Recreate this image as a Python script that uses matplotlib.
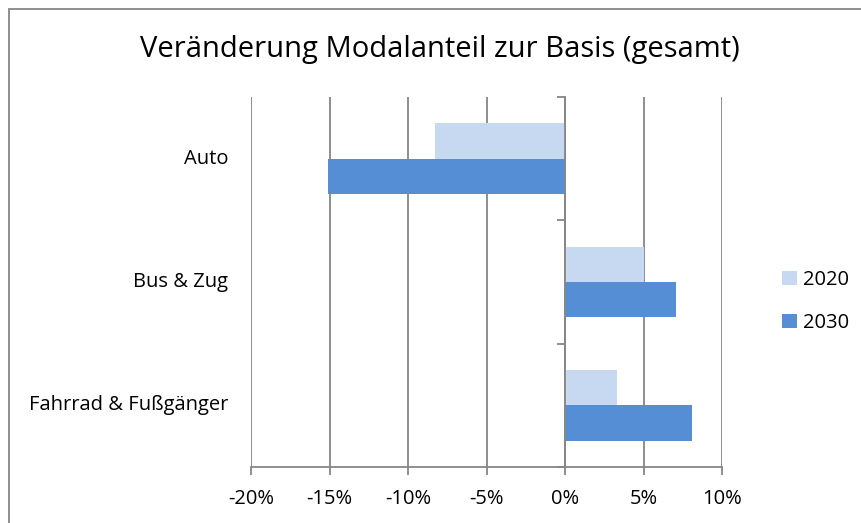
import matplotlib
matplotlib.use("Agg")
import matplotlib.pyplot as plt
from matplotlib.patches import Rectangle
from matplotlib.ticker import FuncFormatter, FixedLocator
import matplotlib.transforms as mtrans
import numpy as np

plt.rcParams['font.family'] = ['Open Sans', 'DejaVu Sans']

title = "Veränderung Modalanteil zur Basis (gesamt)"
categories = ["Auto", "Bus & Zug", "Fahrrad & Fußgänger"]
series_names = ["2020", "2030"]
values_2020 = [-8.3, 5.0, 3.3]
values_2030 = [-15.1, 7.1, 8.1]
xticks = [-20, -15, -10, -5, 0, 5, 10]
colors = ["#C6D9F1", "#558ED5"]

W, H = 861, 523
fig = plt.figure(figsize=(W / 100, H / 100), dpi=100)
ax = fig.add_axes([251 / W, 1 - 467 / H, (722 - 251) / W, (467 - 97) / H])

y = np.arange(len(categories))
h = 0.2857
ax.barh(y - h / 2, values_2020, height=h, color=colors[0], label=series_names[0], zorder=3)
ax.barh(y + h / 2, values_2030, height=h, color=colors[1], label=series_names[1], zorder=3)

ax.set_xlim(-20, 10)
ax.set_ylim(len(categories) - 0.5, -0.5)

grey = "#868686"
ax.xaxis.set_major_locator(FixedLocator(xticks))
ax.xaxis.set_major_formatter(FuncFormatter(lambda v, p: f"{v:.0f}%"))
ax.grid(axis='x', color=grey, lw=1.3, zorder=1)
ax.tick_params(axis='x', direction='out', length=6, width=1.3, color=grey,
               labelsize=14.5, pad=10, labelcolor='black')

for s in ['top', 'right']:
    ax.spines[s].set_visible(False)
ax.spines['bottom'].set_color(grey)
ax.spines['bottom'].set_linewidth(1.3)
ax.spines['left'].set_position(('data', 0))
ax.spines['left'].set_color(grey)
ax.spines['left'].set_linewidth(1.3)
ax.spines['left'].set_zorder(4)
ax.set_yticks(np.arange(-0.5, len(categories), 1.0))
ax.set_yticklabels([])
ax.tick_params(axis='y', direction='out', length=6, width=1.3, color=grey)

trans = mtrans.blended_transform_factory(ax.transAxes, ax.transData)
for i, c in enumerate(categories):
    ax.text(-23 / (722 - 251), i, c, transform=trans, ha='right', va='center', fontsize=14.5)

fig.text(440 / W, 1 - 50 / H, title, ha='center', va='center', fontsize=21)

leg = fig.legend(loc='upper left', bbox_to_anchor=(764 / W, 1 - 252 / H), frameon=False,
                 fontsize=14.5, handlelength=0.73, handleheight=0.73, handletextpad=0.3,
                 labelspacing=1.15, borderpad=0.4)

fig.patches.append(Rectangle((9 / W, -0.01), 1.0, 1 - 9 / H + 0.01, transform=fig.transFigure,
                             fill=False, edgecolor=grey, lw=1.3))

fig.savefig("out.png", dpi=100)
